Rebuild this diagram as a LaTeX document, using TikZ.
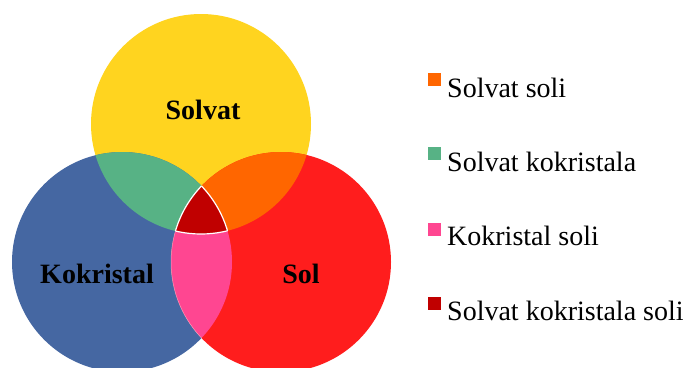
\documentclass[tikz,border=0pt]{standalone}
\usepackage{fontspec}
\setmainfont{Liberation Serif}
\usetikzlibrary{positioning}

\definecolor{solvatcol}{HTML}{FFD41F}
\definecolor{kokrcol}{HTML}{4567A2}
\definecolor{solcol}{HTML}{FF1D1D}
\definecolor{sskcol}{HTML}{57B285}
\definecolor{ssolcol}{HTML}{FF6600}
\definecolor{ksolcol}{HTML}{FF4691}
\definecolor{allcol}{HTML}{C00000}

\tikzset{
  setlabel/.style={font=\fontsize{28}{34}\selectfont\bfseries, anchor=base, inner sep=0pt},
  legbox/.style={minimum size=14pt, inner sep=0pt, draw=white, line width=0.4pt},
  legtext/.style={font=\fontsize{28}{34}\selectfont, anchor=base west, inner sep=0pt},
}

\begin{document}
\begin{tikzpicture}[x=1pt,y=-1pt]
            \useasboundingbox (0,0) rectangle (687,367);
            \def\R{110}
            \coordinate (cS) at (201,124);
            \coordinate (cK) at (122,262);
            \coordinate (cL) at (281,262);

            \fill[solvatcol] (cS) circle (\R);
            \fill[kokrcol] (cK) circle (\R);
            \fill[solcol] (cL) circle (\R);

            \begin{scope}
              \clip (cS) circle (\R);
              \fill[sskcol] (cK) circle (\R);
              \fill[ssolcol] (cL) circle (\R);
            \end{scope}
            \begin{scope}
              \clip (cK) circle (\R);
              \fill[ksolcol] (cL) circle (\R);
              \draw[white, opacity=0.5, line width=0.5pt] (cL) circle (\R);
            \end{scope}
            \begin{scope}
              \clip (cS) circle (\R);
              \clip (cK) circle (\R);
              \fill[allcol] (cL) circle (\R);
              \draw[white, line width=1.2pt] (cL) circle (\R);
            \end{scope}
            \begin{scope}
              \clip (cS) circle (\R);
              \clip (cL) circle (\R);
              \draw[white, line width=1.2pt] (cK) circle (\R);
            \end{scope}
            \begin{scope}
              \clip (cK) circle (\R);
              \clip (cL) circle (\R);
              \draw[white, line width=1.2pt] (cS) circle (\R);
            \end{scope}

            \node[setlabel] (solvat) at (203,119) {Solvat};
            \node[setlabel] (kokristal) at (97,283) {Kokristal};
            \node[setlabel] (sol) at (301,283) {Sol};

            % legend
            \node[legbox, fill=ssolcol] (b1) at (434,79) {};
            \node[legbox, fill=sskcol] (b2) at (434,153) {};
            \node[legbox, fill=ksolcol] (b3) at (434,229) {};
            \node[legbox, fill=allcol] (b4) at (434,303) {};
            \node[legtext] (t1) at (447,97) {Solvat soli};
            \node[legtext] (t2) at (447,171) {Solvat kokristala};
            \node[legtext] (t3) at (447,245) {Kokristal soli};
            \node[legtext] (t4) at (447,320) {Solvat kokristala soli};
          \end{tikzpicture}
\end{document}
